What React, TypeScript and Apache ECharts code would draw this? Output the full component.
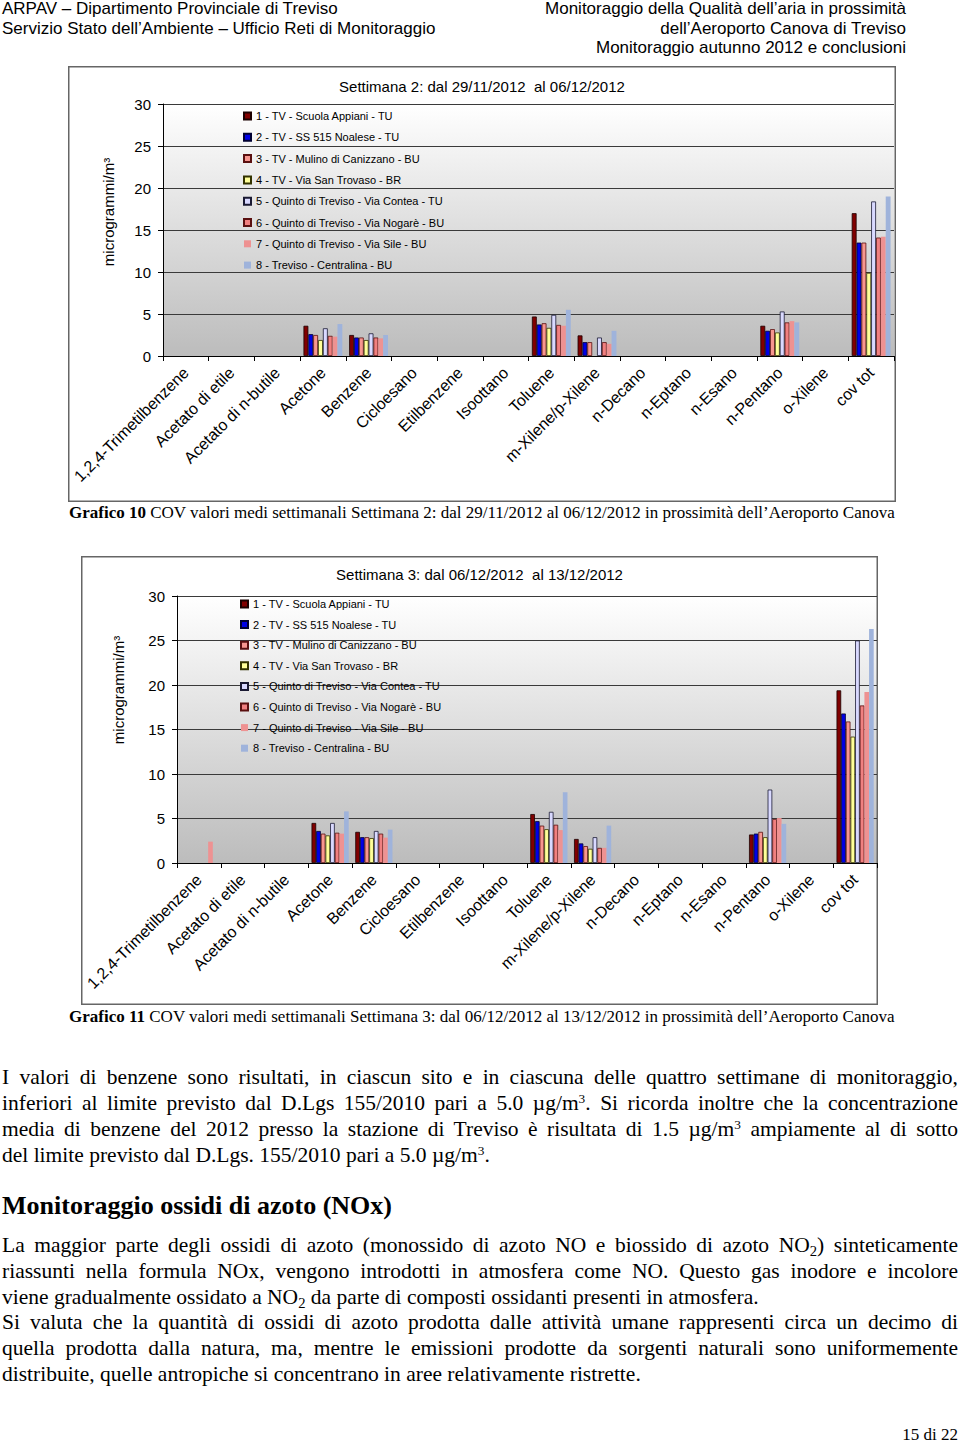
import React, { useEffect, useRef } from "react";
import * as echarts from "echarts";

const categories = [
  "1,2,4-Trimetilbenzene", "Acetato di etile", "Acetato di n-butile", "Acetone", "Benzene",
  "Cicloesano", "Etilbenzene", "Isoottano", "Toluene", "m-Xilene/p-Xilene", "n-Decano",
  "n-Eptano", "n-Esano", "n-Pentano", "o-Xilene", "cov tot",
];

const seriesNames = [
  "1 - TV - Scuola Appiani - TU",
  "2 - TV - SS 515 Noalese - TU",
  "3 - TV - Mulino di Canizzano - BU",
  "4 - TV - Via San Trovaso - BR",
  "5 - Quinto di Treviso - Via Contea - TU",
  "6 - Quinto di Treviso - Via Nogarè - BU",
  "7 - Quinto di Treviso - Via Sile - BU",
  "8 - Treviso - Centralina - BU",
];

const N = null;
// Settimana 2: dal 29/11/2012 al 06/12/2012
const w2s1 = [N, N, N, 3.6, 2.5, N, N, N, 4.7, 2.45, N, N, N, 3.6, N, 17.0];
const w2s2 = [N, N, N, 2.6, 2.2, N, N, N, 3.75, 1.65, N, N, N, 3.0, N, 13.5];
const w2s3 = [N, N, N, 2.5, 2.2, N, N, N, 3.9, 1.65, N, N, N, 3.2, N, 13.5];
const w2s4 = [N, N, N, 1.9, 1.9, N, N, N, 3.35, N, N, N, N, 2.8, N, 9.9];
const w2s5 = [N, N, N, 3.3, 2.7, N, N, N, 4.9, 2.2, N, N, N, 5.3, N, 18.4];
const w2s6 = [N, N, N, 2.4, 2.2, N, N, N, 3.7, 1.65, N, N, N, 4.0, N, 14.1];
const w2s7 = [N, N, N, 2.3, 2.1, N, N, N, 3.6, 1.45, N, N, N, 4.15, N, 14.2];
const w2s8 = [N, N, N, 3.8, 2.5, N, N, N, 5.5, 3.0, N, N, N, 4.0, N, 19.0];

// Settimana 3: dal 06/12/2012 al 13/12/2012
const w3s1 = [N, N, N, 4.5, 3.5, N, N, N, 5.5, 2.7, N, N, N, 3.2, N, 19.4];
const w3s2 = [N, N, N, 3.6, 2.9, N, N, N, 4.7, 2.2, N, N, N, 3.3, N, 16.8];
const w3s3 = [N, N, N, 3.3, 2.9, N, N, N, 4.2, 1.9, N, N, N, 3.5, N, 15.9];
const w3s4 = [N, N, N, 3.1, 2.8, N, N, N, 3.8, 1.6, N, N, N, 2.9, N, 14.2];
const w3s5 = [N, N, N, 4.5, 3.6, N, N, N, 5.75, 2.9, N, N, N, 8.25, N, 25.0];
const w3s6 = [N, N, N, 3.4, 3.3, N, N, N, 4.3, 1.7, N, N, N, 4.95, N, 17.7];
const w3s7 = [2.4, N, N, 3.3, 2.85, N, N, N, 3.7, 1.7, N, N, N, 5.05, N, 19.2];
const w3s8 = [N, N, N, 5.8, 3.75, N, N, N, 7.95, 4.2, N, N, N, 4.4, N, 26.3];

const week2 = [w2s1, w2s2, w2s3, w2s4, w2s5, w2s6, w2s7, w2s8];
const week3 = [w3s1, w3s2, w3s3, w3s4, w3s5, w3s6, w3s7, w3s8];

const yTicks = { min: 0, max: 30, interval: 5 };

const fills = ["#800000", "#0000e6", "#f7968f", "#ffff99", "#d9d9ff", "#f08080", "#ee9292", "#9fb3db"];
const borders = ["#1a0000", "#000033", "#5a1010", "#333300", "#1a1a33", "#5a1010", null, null];

const SANS = '"Liberation Sans", Arial, sans-serif';
const SERIF = '"Liberation Serif", "Times New Roman", serif';

type Box = { left: number; top: number; width: number; height: number };

function buildOption(
  data: (number | null)[][],
  title: string,
  box: Box,
  grid: { left: number; top: number; right: number; bottom: number },
  legendPos: { left: number; top: number; gap: number },
  yName: { x: number; y: number },
  titleTop: number
) {
  return {
    animation: false,
    title: {
      text: title,
      left: "center",
      top: titleTop,
      textStyle: { fontFamily: SANS, fontSize: 15, fontWeight: "normal", color: "#000" },
    },
    legend: {
      orient: "vertical",
      left: legendPos.left,
      top: legendPos.top,
      itemGap: legendPos.gap,
      itemWidth: 7,
      itemHeight: 7,
      icon: "rect",
      textStyle: { fontFamily: SANS, fontSize: 11, color: "#000", lineHeight: 13 },
      data: seriesNames,
    },
    grid: {
      ...grid,
      show: true,
      borderWidth: 0,
      backgroundColor: {
        type: "linear",
        x: 0, y: 0, x2: 0, y2: 1,
        colorStops: [
          { offset: 0, color: "#ffffff" },
          { offset: 1, color: "#bcbcbc" },
        ],
      },
    },
    xAxis: {
      type: "category",
      data: categories,
      boundaryGap: true,
      axisLine: { lineStyle: { color: "#000", width: 1 } },
      axisTick: { show: true, interval: 0, length: 5, lineStyle: { color: "#000" } },
      axisLabel: {
        interval: 0,
        rotate: 45,
        margin: 14,
        fontFamily: SANS,
        fontSize: 16,
        color: "#000",
      },
    },
    yAxis: {
      type: "value",
      min: yTicks.min,
      max: yTicks.max,
      interval: yTicks.interval,
      axisLine: { show: true, lineStyle: { color: "#000", width: 1 } },
      axisTick: { show: true, length: 5, lineStyle: { color: "#000" } },
      axisLabel: { margin: 12, fontFamily: SANS, fontSize: 15, color: "#000" },
      splitLine: { show: true, lineStyle: { color: "#3a3a3a", width: 1.2 } },
    },
    graphic: [
      {
        type: "rect",
        silent: true,
        shape: { x: 0.75, y: 0.75, width: box.width - 1.5, height: box.height - 1.5 },
        style: { fill: "none", stroke: "#666", lineWidth: 1.5 },
      },
      {
        type: "text",
        x: yName.x,
        y: yName.y,
        rotation: Math.PI / 2,
        style: {
          text: "microgrammi/m³",
          font: `15px ${SANS}`,
          fill: "#000",
          textAlign: "center",
          textVerticalAlign: "middle",
        },
      },
    ],
    series: data.map((vals, i) => ({
      name: seriesNames[i],
      type: "bar",
      data: vals,
      barGap: "0%",
      barCategoryGap: "15%",
      itemStyle: {
        color: fills[i],
        borderColor: borders[i] || fills[i],
        borderWidth: borders[i] ? 0.8 : 0,
      },
    })),
  };
}

const BOX1: Box = { left: 68, top: 66, width: 828, height: 436 };
const BOX2: Box = { left: 81, top: 556, width: 797, height: 449 };

function Chart(props: { box: Box; option: any }) {
  const ref = useRef<HTMLDivElement>(null);
  useEffect(() => {
    if (!ref.current) return;
    const chart = echarts.init(ref.current, undefined, { renderer: "svg" });
    chart.setOption(props.option);
    return () => chart.dispose();
  }, []);
  const { box } = props;
  return (
    <div
      ref={ref}
      style={{ position: "absolute", left: box.left, top: box.top, width: box.width, height: box.height }}
    />
  );
}

const sup = (t: string) => (
  <sup style={{ fontSize: "0.62em", lineHeight: 0, verticalAlign: "0.55em" }}>{t}</sup>
);
const sub = (t: string) => (
  <sub style={{ fontSize: "0.68em", lineHeight: 0, verticalAlign: "-0.25em" }}>{t}</sub>
);

function Line(props: { top: number; last?: boolean; children: React.ReactNode }) {
  return (
    <div
      style={{
        position: "absolute",
        left: 2,
        width: 956,
        top: props.top,
        fontFamily: SERIF,
        fontSize: 21.5,
        lineHeight: "26px",
        textAlign: "justify",
        textAlignLast: props.last ? "left" : "justify",
        color: "#000",
      } as any}
    >
      {props.children}
    </div>
  );
}

export default function App() {
  const opt1 = buildOption(
    week2,
    "Settimana 2: dal 29/11/2012  al 06/12/2012",
    BOX1,
    { left: 95, top: 38, right: 2, bottom: 146 },
    { left: 170, top: 38.5, gap: 8.3 },
    { x: 40, y: 146 },
    8
  );
  const opt2 = buildOption(
    week3,
    "Settimana 3: dal 06/12/2012  al 13/12/2012",
    BOX2,
    { left: 96, top: 40, right: 1, bottom: 142 },
    { left: 154, top: 36.5, gap: 7.6 },
    { x: 37, y: 134 },
    6
  );

  const head: React.CSSProperties = {
    position: "absolute",
    fontFamily: SANS,
    fontSize: 17,
    lineHeight: "19.5px",
    color: "#000",
    whiteSpace: "nowrap",
  };
  const caption: React.CSSProperties = {
    position: "absolute",
    left: 69,
    fontFamily: SERIF,
    fontSize: 17,
    lineHeight: "20px",
    color: "#000",
    whiteSpace: "nowrap",
  };

  return (
    <div style={{ position: "absolute", left: 0, top: 0, width: 960, height: 1444, background: "#fff", overflow: "hidden" }}>
      <div style={{ ...head, left: 2, top: -1 }}>
        ARPAV – Dipartimento Provinciale di Treviso
        <br />
        Servizio Stato dell’Ambiente – Ufficio Reti di Monitoraggio
      </div>
      <div style={{ ...head, right: 54, top: -1, textAlign: "right" }}>
        Monitoraggio della Qualità dell’aria in prossimità
        <br />
        dell’Aeroporto Canova di Treviso
        <br />
        Monitoraggio autunno 2012 e conclusioni
      </div>

      <Chart box={BOX1} option={opt1} />
      <div style={{ ...caption, top: 503 }}>
        <b>Grafico 10</b> COV valori medi settimanali Settimana 2: dal 29/11/2012 al 06/12/2012 in prossimità dell’Aeroporto Canova
      </div>

      <Chart box={BOX2} option={opt2} />
      <div style={{ ...caption, top: 1007 }}>
        <b>Grafico 11</b> COV valori medi settimanali Settimana 3: dal 06/12/2012 al 13/12/2012 in prossimità dell’Aeroporto Canova
      </div>

      <Line top={1064}>
        I valori di benzene sono risultati, in ciascun sito e in ciascuna delle quattro settimane di monitoraggio,
      </Line>
      <Line top={1090}>
        inferiori al limite previsto dal D.Lgs 155/2010 pari a 5.0 µg/m{sup("3")}. Si ricorda inoltre che la concentrazione
      </Line>
      <Line top={1116}>
        media di benzene del 2012 presso la stazione di Treviso è risultata di 1.5 µg/m{sup("3")} ampiamente al di sotto
      </Line>
      <Line top={1142} last>
        del limite previsto dal D.Lgs. 155/2010 pari a 5.0 µg/m{sup("3")}.
      </Line>

      <div
        style={{
          position: "absolute",
          left: 2,
          top: 1191,
          fontFamily: SERIF,
          fontSize: 26,
          fontWeight: "bold",
          lineHeight: "30px",
          whiteSpace: "nowrap",
          color: "#000",
        }}
      >
        Monitoraggio ossidi di azoto (NOx)
      </div>

      <Line top={1232}>
        La maggior parte degli ossidi di azoto (monossido di azoto NO e biossido di azoto NO{sub("2")}) sinteticamente
      </Line>
      <Line top={1258}>
        riassunti nella formula NOx, vengono introdotti in atmosfera come NO. Questo gas inodore e incolore
      </Line>
      <Line top={1284} last>
        viene gradualmente ossidato a NO{sub("2")} da parte di composti ossidanti presenti in atmosfera.
      </Line>
      <Line top={1309}>
        Si valuta che la quantità di ossidi di azoto prodotta dalle attività umane rappresenti circa un decimo di
      </Line>
      <Line top={1335}>
        quella prodotta dalla natura, ma, mentre le emissioni prodotte da sorgenti naturali sono uniformemente
      </Line>
      <Line top={1361} last>
        distribuite, quelle antropiche si concentrano in aree relativamente ristrette.
      </Line>

      <div
        style={{
          position: "absolute",
          right: 2,
          top: 1425,
          fontFamily: SERIF,
          fontSize: 17,
          lineHeight: "20px",
          whiteSpace: "nowrap",
          color: "#000",
        }}
      >
        15 di 22
      </div>
    </div>
  );
}
